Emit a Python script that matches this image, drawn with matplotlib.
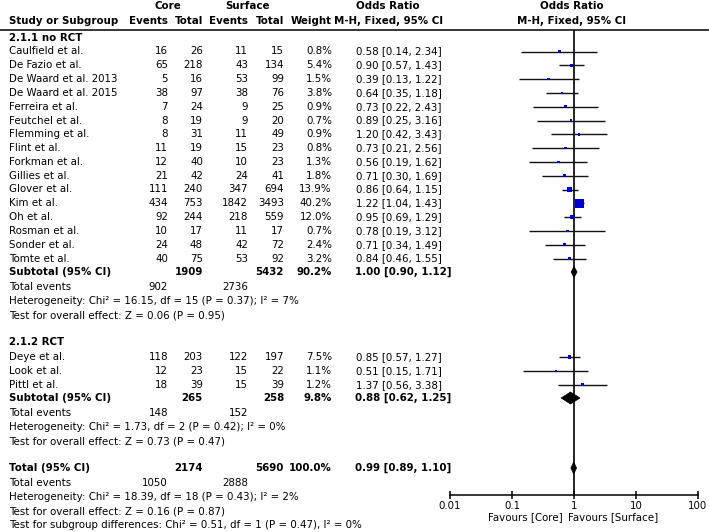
"""Forest plot: core vs surface, odds ratios (M-H, fixed)"""
import matplotlib
matplotlib.use('Agg')
import matplotlib.pyplot as plt
from matplotlib.patches import Polygon
import numpy as np

# ---- data ----
g1_names = ['Caulfield et al.', 'De Fazio et al.', 'De Waard et al. 2013', 'De Waard et al. 2015',
            'Ferreira et al.', 'Feutchel et al.', 'Flemming et al.', 'Flint et al.', 'Forkman et al.',
            'Gillies et al.', 'Glover et al.', 'Kim et al.', 'Oh et al.', 'Rosman et al.',
            'Sonder et al.', 'Tomte et al.']
g1_core_ev = [16, 65, 5, 38, 7, 8, 8, 11, 12, 21, 111, 434, 92, 10, 24, 40]
g1_core_n = [26, 218, 16, 97, 24, 19, 31, 19, 40, 42, 240, 753, 244, 17, 48, 75]
g1_surf_ev = [11, 43, 53, 38, 9, 9, 11, 15, 10, 24, 347, 1842, 218, 11, 42, 53]
g1_surf_n = [15, 134, 99, 76, 25, 20, 49, 23, 23, 41, 694, 3493, 559, 17, 72, 92]
g1_weight = [0.8, 5.4, 1.5, 3.8, 0.9, 0.7, 0.9, 0.8, 1.3, 1.8, 13.9, 40.2, 12.0, 0.7, 2.4, 3.2]
g1_or = [0.58, 0.90, 0.39, 0.64, 0.73, 0.89, 1.20, 0.73, 0.56, 0.71, 0.86, 1.22, 0.95, 0.78, 0.71, 0.84]
g1_lo = [0.14, 0.57, 0.13, 0.35, 0.22, 0.25, 0.42, 0.21, 0.19, 0.30, 0.64, 1.04, 0.69, 0.19, 0.34, 0.46]
g1_hi = [2.34, 1.43, 1.22, 1.18, 2.43, 3.16, 3.43, 2.56, 1.62, 1.69, 1.15, 1.43, 1.29, 3.12, 1.49, 1.55]

g2_names = ['Deye et al.', 'Look et al.', 'Pittl et al.']
g2_core_ev = [118, 12, 18]
g2_core_n = [203, 23, 39]
g2_surf_ev = [122, 15, 15]
g2_surf_n = [197, 22, 39]
g2_weight = [7.5, 1.1, 1.2]
g2_or = [0.85, 0.51, 1.37]
g2_lo = [0.57, 0.15, 0.56]
g2_hi = [1.27, 1.71, 3.38]

# subtotal / total rows: core total, surface total, weight, OR, lo, hi
sub1 = [1909, 5432, 90.2, 1.00, 0.90, 1.12]
sub2 = [265, 258, 9.8, 0.88, 0.62, 1.25]
total = [2174, 5690, 100.0, 0.99, 0.89, 1.10]
events1 = [902, 2736]
events2 = [148, 152]
events_all = [1050, 2888]

het1 = 'Heterogeneity: Chi² = 16.15, df = 15 (P = 0.37); I² = 7%'
eff1 = 'Test for overall effect: Z = 0.06 (P = 0.95)'
het2 = 'Heterogeneity: Chi² = 1.73, df = 2 (P = 0.42); I² = 0%'
eff2 = 'Test for overall effect: Z = 0.73 (P = 0.47)'
het_all = 'Heterogeneity: Chi² = 18.39, df = 18 (P = 0.43); I² = 2%'
eff_all = 'Test for overall effect: Z = 0.16 (P = 0.87)'
subgroup_test = 'Test for subgroup differences: Chi² = 0.51, df = 1 (P = 0.47), I² = 0%'

ticks = [0.01, 0.1, 1, 10, 100]
tick_labels = ['0.01', '0.1', '1', '10', '100']

# ---- layout (pixels) ----
W, H = 709, 532
FS = 7.4
x_name, x_cev, x_cn, x_sev, x_sn, x_w, x_or = 9, 168, 203, 248, 284, 332, 356
ax_left, ax_right, ax_top, ax_bot = 450, 698, 30, 495
step = 13.8

fig = plt.figure(figsize=(W / 100, H / 100), dpi=100)
ax = fig.add_axes([0, 0, 1, 1])
ax.set_xlim(0, W)
ax.set_ylim(H, 0)
ax.axis('off')

axf = fig.add_axes([ax_left / W, (H - ax_bot) / H, (ax_right - ax_left) / W, (ax_bot - ax_top) / H])
axf.set_xscale('log')
axf.set_xlim(0.01, 100)
axf.set_ylim(ax_bot, ax_top)
axf.patch.set_alpha(0)
for s in ['top', 'left', 'right']:
    axf.spines[s].set_visible(False)
axf.spines['bottom'].set_linewidth(1.1)
axf.set_yticks([])
axf.set_xticks(ticks)
axf.set_xticklabels(tick_labels)
axf.minorticks_off()
axf.tick_params(axis='x', direction='inout', length=6, width=1.1, labelsize=FS, pad=1)
axf.axvline(1, color='black', lw=1.2)


def txt(x, y, s, ha='left', bold=False):
    ax.text(x, y, s, ha=ha, va='center', fontsize=FS,
            fontweight='bold' if bold else 'normal', color='black')


# header
txt(168, 6, 'Core', ha='center', bold=True)
txt(248, 6, 'Surface', ha='center', bold=True)
txt(388, 6, 'Odds Ratio', ha='center', bold=True)
txt(572, 6, 'Odds Ratio', ha='center', bold=True)
txt(x_name, 21, 'Study or Subgroup', bold=True)
txt(x_cev, 21, 'Events', ha='right', bold=True)
txt(x_cn, 21, 'Total', ha='right', bold=True)
txt(x_sev, 21, 'Events', ha='right', bold=True)
txt(x_sn, 21, 'Total', ha='right', bold=True)
txt(x_w, 21, 'Weight', ha='right', bold=True)
txt(389, 21, 'M-H, Fixed, 95% CI', ha='center', bold=True)
txt(572, 21, 'M-H, Fixed, 95% CI', ha='center', bold=True)
ax.plot([0, W], [30, 30], color='black', lw=1.1)


def study_rows(y0, names, cev, cn, sev, sn, w, orr, lo, hi):
    ys = y0 + step * np.arange(len(names))
    for i, y in enumerate(ys):
        txt(x_name, y, names[i])
        txt(x_cev, y, str(cev[i]), ha='right')
        txt(x_cn, y, str(cn[i]), ha='right')
        txt(x_sev, y, str(sev[i]), ha='right')
        txt(x_sn, y, str(sn[i]), ha='right')
        txt(x_w, y, f'{w[i]:.1f}%', ha='right')
        txt(x_or, y, f'{orr[i]:.2f} [{lo[i]:.2f}, {hi[i]:.2f}]')
    axf.hlines(ys, lo, hi, color='#111111', lw=1.0)
    side_pt = np.maximum(1.34 * np.sqrt(w), 2.6) * 0.72
    axf.scatter(orr, ys, marker='s', s=side_pt ** 2, color='#0000cc', linewidths=0, zorder=3)
    return ys


def summary_row(y, label, vals, half_h=5.5):
    cn, sn, w, orr, lo, hi = vals
    txt(x_name, y, label, bold=True)
    txt(x_cn, y, str(cn), ha='right', bold=True)
    txt(x_sn, y, str(sn), ha='right', bold=True)
    txt(x_w, y, f'{w:.1f}%', ha='right', bold=True)
    txt(x_or - 1, y, f'{orr:.2f} [{lo:.2f}, {hi:.2f}]', bold=True)
    axf.add_patch(Polygon([(lo, y), (orr, y - half_h), (hi, y), (orr, y + half_h)],
                          closed=True, facecolor='black', edgecolor='black', lw=0.5, zorder=4))


def events_row(y, ev):
    txt(x_name, y, 'Total events')
    txt(x_cev, y, str(ev[0]), ha='right')
    txt(x_sev, y, str(ev[1]), ha='right')


# subgroup 2.1.1
txt(x_name, 38, '2.1.1 no RCT', bold=True)
study_rows(51.5, g1_names, g1_core_ev, g1_core_n, g1_surf_ev, g1_surf_n, g1_weight, g1_or, g1_lo, g1_hi)
summary_row(272, 'Subtotal (95% CI)', sub1)
events_row(287, events1)
txt(x_name, 301, het1)
txt(x_name, 315, eff1)

# subgroup 2.1.2
txt(x_name, 342, '2.1.2 RCT', bold=True)
study_rows(357, g2_names, g2_core_ev, g2_core_n, g2_surf_ev, g2_surf_n, g2_weight, g2_or, g2_lo, g2_hi)
summary_row(398, 'Subtotal (95% CI)', sub2, half_h=6)
events_row(413, events2)
txt(x_name, 427, het2)
txt(x_name, 441, eff2)

# overall
summary_row(468, 'Total (95% CI)', total, half_h=6)
events_row(483, events_all)
txt(x_name, 497, het_all)
txt(x_name, 511, eff_all)
txt(x_name, 525, subgroup_test)

# favours labels
txt(563, 517, 'Favours [Core]', ha='right')
txt(568, 517, 'Favours [Surface]')

fig.savefig('out.png', dpi=100)
